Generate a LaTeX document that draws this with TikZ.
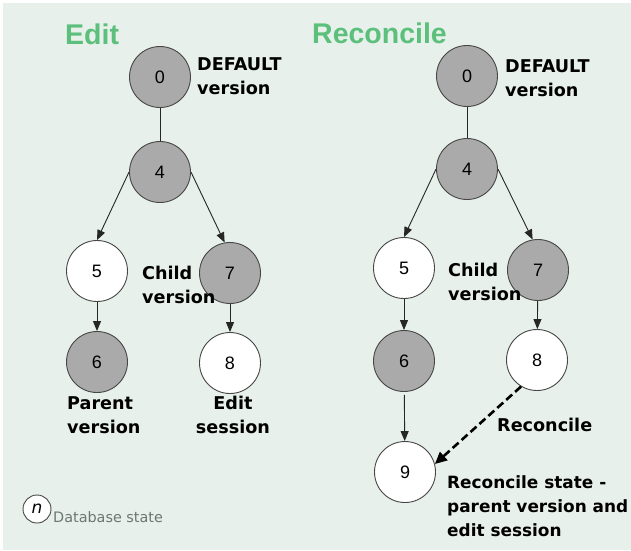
\documentclass[tikz,border=0pt]{standalone}
\usepackage{fontspec}
\newfontfamily\lblfont{DejaVu Sans}
\newfontfamily\headfont{Liberation Sans}
\usetikzlibrary{arrows.meta}
\definecolor{bgmint}{RGB}{231,240,234}
\definecolor{headgreen}{RGB}{92,192,124}
\definecolor{stategray}{RGB}{170,170,170}
\definecolor{rimgray}{RGB}{70,70,70}
\definecolor{keygray}{RGB}{110,118,114}
\begin{document}
\begin{tikzpicture}[x=1pt,y=-1pt,
  state/.style={circle, draw=rimgray, line width=0.9pt, minimum size=61pt,
    inner sep=0pt, font=\headfont\fontsize{18}{18}\selectfont},
  saved/.style={state, fill=stategray},
  open/.style={state, fill=white},
  tree/.style={draw=black!85, line width=0.9pt},
  link/.style={tree, -{Triangle[length=10pt,width=8pt]}},
  merge/.style={draw=black, line width=2.6pt, dash pattern=on 8pt off 4pt,
    -{Triangle[length=12pt,width=11pt]}},
  heading/.style={font=\headfont\bfseries\fontsize{28.5}{30}\selectfont,
    text=headgreen, anchor=base west, inner sep=0pt},
  note/.style={font=\lblfont\bfseries\fontsize{17.6}{24}\selectfont,
    align=left, anchor=north west, inner sep=0pt},
]
% canvas
\useasboundingbox (0,0) rectangle (631,550);
\fill[bgmint] (3,3) rectangle (631,550);

% ---- Edit tree ----
\node[heading] (edittitle) at (65,44) {Edit};
\node[saved] (e0) at (160,77) {0};
\node[saved] (e4) at (160,172) {4};
\node[open]  (e5) at (97,271) {5};
\node[saved] (e7) at (230,273) {7};
\node[saved] (e6) at (97,362) {6};
\node[open]  (e8) at (230,363) {8};

\draw[tree] (e0) -- (e4);
\draw[link] (e4.west) -- (e5.north);
\draw[link] (e4.east) -- (e7.100);
\draw[link] (e5) -- (e6);
\draw[link] (e7) -- (e8);

\node[note] (edefault) at (197,57) {DEFAULT\\version};
\node[note] (echild) at (142,266) {Child\\version};
\node[note] (eparent) at (67,396) {Parent\\version};
\node[note, align=center, anchor=north] (esession) at (233,396) {Edit\\session};

% ---- Reconcile tree ----
\node[heading] (rectitle) at (312,43) {Reconcile};
\node[saved] (r0) at (467,76) {0};
\node[saved] (r4) at (467,169) {4};
\node[open]  (r5) at (404,268) {5};
\node[saved] (r7) at (538,270) {7};
\node[saved] (r6) at (404,361) {6};
\node[open]  (r8) at (537,360) {8};
\node[open]  (r9) at (405,472) {9};

\draw[tree] (r0) -- (r4);
\draw[link] (r4.west) -- (r5.north);
\draw[link] (r4.east) -- (r7.100);
\draw[link] (r5) -- (r6);
\draw[link] (r7) -- (r8);
\draw[link, shorten <=3pt] (r6) -- (r9);
\draw[merge] (r8.239) -- (r9.15);

\node[note] (rdefault) at (505,59) {DEFAULT\\version};
\node[note] (rchild) at (448,263) {Child\\version};
\node[note] (rmerge) at (497,418) {Reconcile};
\node[note, font=\lblfont\bfseries\fontsize{16.9}{24}\selectfont] (rstate) at (447,475)
  {Reconcile state -\\parent version and\\edit session};

% ---- key ----
\node[circle, draw=rimgray, line width=0.9pt, fill=white, minimum size=28pt,
  inner sep=0pt, font=\lblfont\itshape\fontsize{17}{17}\selectfont] (key) at (37,509) {n};
\node[font=\lblfont\fontsize{14.4}{16}\selectfont, text=keygray, anchor=base west,
  inner sep=0pt] (keytext) at (53,522) {Database state};
\end{tikzpicture}
\end{document}
